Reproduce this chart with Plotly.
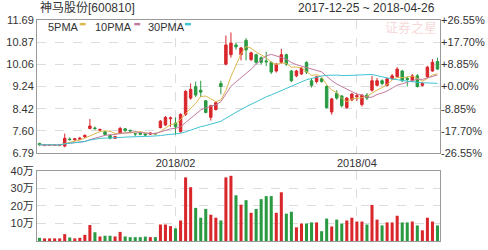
import plotly.graph_objects as go
import pandas as pd

# ---------------- data ----------------
opens = [7.14, 7.06, 7.07, 7.07, 7.06, 7.04, 7.30, 7.27, 7.29, 7.38,
         7.69, 7.71, 7.63, 7.57, 7.43, 7.33, 7.51, 7.68, 7.62, 7.50,
         7.52, 7.49, 7.48, 7.51, 7.72, 7.82, 8.05, 7.89, 7.57, 8.21,
         8.81, 9.24, 9.10, 8.71, 8.10, 8.39, 9.35, 10.06, 10.41, 10.77,
         10.41, 10.94, 10.23, 10.41, 10.30, 10.18, 10.13, 9.81, 10.13, 10.41,
         9.81, 9.63, 9.70, 10.13, 9.45, 9.42, 9.52, 9.24, 8.30, 8.99,
         8.89, 8.46, 8.74, 8.86, 8.57, 8.92, 9.10, 9.28, 9.45, 9.28,
         9.52, 9.60, 9.81, 9.54, 9.45, 9.63, 9.28, 9.60, 9.81, 10.16]
highs = [7.16, 7.11, 7.10, 7.10, 7.10, 7.50, 7.36, 7.34, 7.38, 7.48,
         8.04, 7.76, 7.69, 7.60, 7.46, 7.42, 7.75, 7.70, 7.65, 7.52,
         7.55, 7.52, 7.55, 7.53, 8.00, 8.15, 8.13, 8.10, 8.25, 9.10,
         9.35, 9.42, 9.45, 8.74, 8.56, 8.68, 9.45, 11.12, 11.23, 10.85,
         10.70, 11.02, 10.52, 10.45, 10.35, 10.52, 10.16, 10.10, 10.63, 10.45,
         9.85, 9.85, 9.96, 10.16, 9.55, 9.63, 9.56, 9.28, 8.82, 9.10,
         8.92, 8.85, 9.00, 8.98, 8.96, 8.99, 9.63, 9.55, 9.50, 9.56,
         9.70, 9.95, 9.85, 9.60, 9.70, 9.70, 9.40, 10.00, 10.25, 10.30]
lows = [7.05, 7.04, 7.05, 7.05, 7.04, 7.00, 7.24, 7.24, 7.26, 7.34,
        7.66, 7.63, 7.58, 7.44, 7.29, 7.30, 7.48, 7.57, 7.55, 7.40,
        7.44, 7.41, 7.45, 7.46, 7.70, 7.78, 7.75, 7.46, 7.54, 8.15,
        8.75, 8.85, 8.85, 8.25, 7.98, 8.35, 8.95, 10.02, 10.30, 10.60,
        10.20, 10.20, 10.18, 10.06, 10.05, 9.99, 9.70, 9.75, 10.08, 10.00,
        9.40, 9.58, 9.66, 9.70, 9.20, 9.35, 9.38, 8.42, 8.20, 8.75,
        8.46, 8.42, 8.70, 8.70, 8.50, 8.74, 9.05, 9.24, 9.28, 9.24,
        9.48, 9.56, 9.40, 9.24, 9.40, 9.20, 9.24, 9.55, 9.78, 9.85]
closes = [7.09, 7.09, 7.08, 7.08, 7.08, 7.33, 7.28, 7.31, 7.33, 7.43,
          7.78, 7.69, 7.65, 7.47, 7.33, 7.39, 7.69, 7.61, 7.60, 7.49,
          7.48, 7.45, 7.52, 7.49, 7.96, 8.10, 8.08, 7.75, 8.21, 9.06,
          9.13, 8.92, 9.03, 8.28, 8.53, 8.64, 9.24, 10.77, 10.84, 10.70,
          10.66, 10.59, 10.48, 10.13, 10.13, 10.15, 9.77, 10.06, 10.41, 10.06,
          9.45, 9.81, 9.92, 9.77, 9.28, 9.60, 9.42, 8.46, 8.78, 8.81,
          8.53, 8.81, 8.96, 8.90, 8.92, 8.81, 9.45, 9.45, 9.35, 9.52,
          9.63, 9.88, 9.45, 9.50, 9.63, 9.24, 9.35, 9.95, 10.13, 9.88]
# volume in 万 (10,000 shares)
volumes = [1.8, 1.5, 1.5, 1.5, 1.5, 3.9, 2.0, 1.5, 1.8, 3.5,
           9.1, 5.0, 2.6, 3.0, 3.0, 2.6, 5.2, 2.6, 2.2, 2.2,
           2.2, 2.5, 2.2, 2.2, 9.4, 9.4, 8.5, 7.2, 11.7, 36.3,
           30.7, 18.9, 13.3, 18.3, 15.0, 13.3, 11.7, 36.3, 37.2, 26.1,
           20.7, 23.3, 16.1, 18.3, 23.9, 25.6, 25.6, 16.1, 27.8, 15.6,
           16.7, 7.8, 10.0, 10.0, 10.6, 10.6, 5.6, 12.8, 8.3, 12.2,
           10.0, 11.7, 13.3, 11.1, 11.1, 9.4, 20.6, 12.2, 8.9, 10.6,
           10.6, 14.4, 10.6, 10.6, 11.1, 8.9, 6.1, 13.3, 11.1, 8.9]

price_ticks = [6.79, 7.60, 8.42, 9.24, 10.06, 10.87, 11.69]
price_labels = ["6.79", "7.60", "8.42", "9.24", "10.06", "10.87", "11.69"]
pct_labels = ["-26.55%", "-17.70%", "-8.85%", "+0.00%", "+8.85%", "+17.70%", "+26.55%"]
vol_ticks = [10, 20, 30, 40]
vol_labels = ["10万", "20万", "30万", "40万"]
month_idx = [27, 63]
month_labels = ["2018/02", "2018/04"]
ma_names = ["5PMA", "10PMA", "30PMA"]
ma_windows = [5, 10, 30]
title_text = "神马股份[600810]"
date_text = "2017-12-25 ~ 2018-04-26"

# ---------------- styling ----------------
RED = "#d8262b"
GREEN = "#2a9a42"
MA_COLORS = ["#dcb84e", "#c27a9e", "#3ec3d3"]
GRID = "#dcdcdc"
FRAME = "#9a9a9a"
TXT = "#333333"
FONT = "Liberation Sans, Arial, Noto Sans CJK SC, sans-serif"

W, H = 488, 250
L, R, T, B = 37, 45, 20, 3
pw, ph = W - L - R, H - T - B


def pxx(v):
    return (v - L) / pw


def pxy(v):
    return (H - B - v) / ph


n = len(closes)
x = list(range(n))
cs = pd.Series(closes)
mas = [cs.rolling(w, min_periods=1).mean().tolist() for w in ma_windows]
vol_colors = [RED if c >= o else GREEN for o, c in zip(opens, closes)]

fig = go.Figure()
fig.add_trace(go.Candlestick(
    x=x, open=opens, high=highs, low=lows, close=closes,
    increasing=dict(line=dict(color=RED, width=1), fillcolor=RED),
    decreasing=dict(line=dict(color=GREEN, width=1), fillcolor=GREEN),
    whiskerwidth=0, xaxis="x", yaxis="y", hoverinfo="skip"))
for name, vals, col in zip(ma_names, mas, MA_COLORS):
    fig.add_trace(go.Scatter(x=x, y=vals, mode="lines", name=name,
                             line=dict(color=col, width=1), xaxis="x", yaxis="y",
                             hoverinfo="skip"))
# invisible trace to carry the right-hand percent axis
fig.add_trace(go.Scatter(x=x, y=closes, mode="lines", line=dict(width=0),
                         opacity=0, xaxis="x", yaxis="y3", hoverinfo="skip"))
fig.add_trace(go.Bar(x=x, y=volumes, marker=dict(color=vol_colors, line=dict(width=0)),
                     width=0.6, xaxis="x2", yaxis="y2", hoverinfo="skip"))

tickfont = dict(family=FONT, size=11, color=TXT)
main_bottom = 156.5
vol_top = 175

common_x = dict(range=[-0.5, n - 0.5], tickvals=month_idx, showgrid=True,
                gridcolor=GRID, griddash="dash", gridwidth=1, zeroline=False,
                showline=True, mirror=True, linecolor=FRAME, linewidth=1,
                ticks="", tickfont=tickfont)

fig.update_layout(
    width=W, height=H, autosize=False,
    margin=dict(l=L, r=R, t=T, b=B, pad=0),
    paper_bgcolor="white", plot_bgcolor="white", showlegend=False,
    font=dict(family=FONT, size=11, color=TXT),
    xaxis=dict(domain=[0, 1], anchor="y", ticktext=month_labels,
               rangeslider=dict(visible=False), **common_x),
    xaxis2=dict(domain=[0, 1], anchor="y2", matches="x", showticklabels=False,
                **common_x),
    yaxis=dict(domain=[pxy(main_bottom), 1], range=[price_ticks[0], price_ticks[-1]],
               tickvals=price_ticks, ticktext=price_labels, showgrid=True,
               gridcolor=GRID, griddash="dash", zeroline=False, showline=True,
               mirror=True, linecolor=FRAME, ticks="", tickfont=tickfont),
    yaxis3=dict(overlaying="y", side="right", anchor="x",
                range=[price_ticks[0], price_ticks[-1]], tickvals=price_ticks,
                ticktext=pct_labels, showgrid=False, zeroline=False,
                showline=False, ticks="", tickfont=tickfont),
    yaxis2=dict(domain=[0, pxy(vol_top)], range=[0, 40], tickvals=vol_ticks,
                ticktext=vol_labels, showgrid=True, gridcolor=GRID, griddash="dash",
                zeroline=False, showline=True, mirror=True, linecolor=FRAME,
                ticks="", tickfont=tickfont),
    bargap=0.4,
)

ann = []
ann.append(dict(text=title_text, x=pxx(38), y=pxy(8), xref="paper", yref="paper",
                xanchor="left", yanchor="middle", showarrow=False,
                font=dict(family=FONT, size=12, color=TXT)))
ann.append(dict(text=date_text, x=pxx(440), y=pxy(8), xref="paper", yref="paper",
                xanchor="right", yanchor="middle", showarrow=False,
                font=dict(family=FONT, size=12, color=TXT)))
ann.append(dict(text="证券之星", x=pxx(414), y=pxy(27), xref="paper", yref="paper",
                xanchor="center", yanchor="middle", showarrow=False,
                font=dict(family="Noto Sans CJK SC", size=13, color="rgba(225,120,120,0.3)")))
legend_x = [46, 93, 147]
swatch_x = [80, 135, 186]
shapes = []
for name, lx, sx, col in zip(ma_names, legend_x, swatch_x, MA_COLORS):
    ann.append(dict(text=name, x=pxx(lx), y=pxy(27), xref="paper", yref="paper",
                    xanchor="left", yanchor="middle", showarrow=False,
                    font=dict(family=FONT, size=11, color=TXT)))
    shapes.append(dict(type="rect", xref="paper", yref="paper",
                       x0=pxx(sx), x1=pxx(sx + 6), y0=pxy(25.5), y1=pxy(23),
                       fillcolor=col, line=dict(width=0)))
fig.update_layout(annotations=ann, shapes=shapes)

fig.write_html("out.html")
